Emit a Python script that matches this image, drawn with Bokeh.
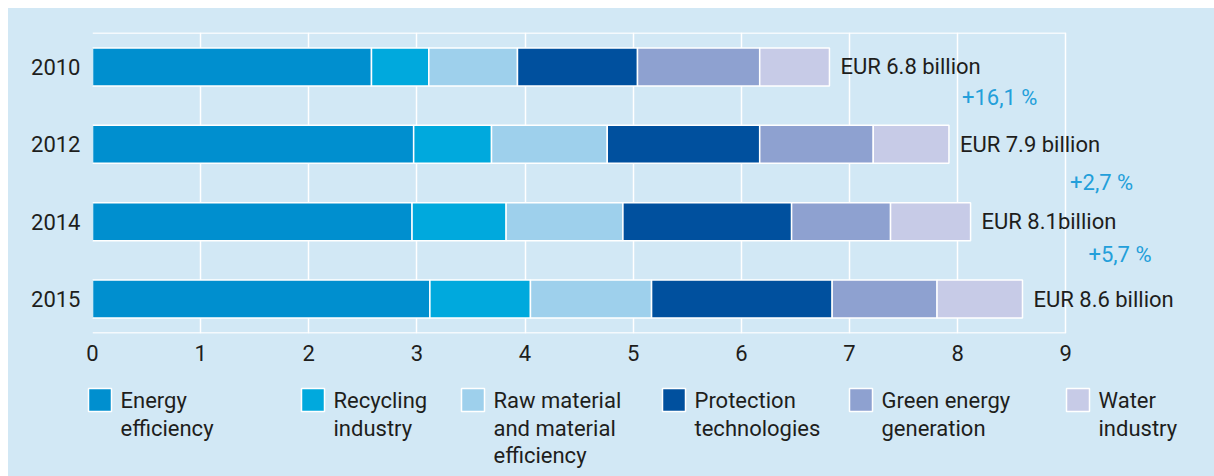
from bokeh.plotting import figure
from bokeh.models import FixedTicker, ColumnDataSource, Range1d
from bokeh.core.properties import value
from bokeh.embed import file_html
from bokeh.resources import INLINE

# ---- data ----
years = ["2010", "2012", "2014", "2015"]
categories = ["Energy efficiency", "Recycling industry",
              "Raw material and material efficiency", "Protection technologies",
              "Green energy generation", "Water industry"]
energy_efficiency = [2.58, 2.97, 2.955, 3.12]
recycling_industry = [0.53, 0.72, 0.87, 0.93]
raw_material = [0.82, 1.07, 1.08, 1.12]
protection_tech = [1.11, 1.41, 1.56, 1.67]
green_energy = [1.13, 1.05, 0.915, 0.97]
water_industry = [0.645, 0.70, 0.74, 0.79]
total_labels = ["EUR 6.8 billion", "EUR 7.9 billion", "EUR 8.1billion", "EUR 8.6 billion"]
growth_labels = ["+16,1 %", "+2,7 %", "+5,7 %"]
x_ticks = [0, 1, 2, 3, 4, 5, 6, 7, 8, 9]
legend_lines = [["Energy", "efficiency"], ["Recycling", "industry"],
                ["Raw material", "and material", "efficiency"],
                ["Protection", "technologies"], ["Green energy", "generation"],
                ["Water", "industry"]]

# ---- style / layout ----
colors = ["#008FCF", "#00A9DD", "#9ED0EC", "#00509E", "#8EA1D0", "#C7CBE7"]
BG = "#D2E8F5"
TXT = "#1E1E1C"
PCT = "#239FDA"
FONT = "Roboto"
FS = "22px"
growth_x = [8.04, 9.04, 9.21]
growth_y = [0.40, 1.49, 2.43]

W, H = 1206, 468
FL, FT, FW, FH = 84, 24, 1103, 301          # frame left/top/width/height (figure px)
X0, X1 = 0, 10.2
Y0, Y1 = -0.445, 3.445


def px2x(px):   # figure pixel -> data x
    return X0 + (px - FL) * (X1 - X0) / FW


def py2y(py):   # figure pixel -> data y (y axis flipped)
    return Y0 + (py - FT) * (Y1 - Y0) / FH


legend_px = [80, 293, 453, 654, 841, 1058]   # swatch left edges (figure px)

series = [energy_efficiency, recycling_industry, raw_material,
          protection_tech, green_energy, water_industry]
keys = ["c%d" % i for i in range(len(series))]
data = {"y": list(range(len(years)))}
for k, s in zip(keys, series):
    data[k] = s
source = ColumnDataSource(data)

p = figure(width=W, height=H, output_backend="svg", toolbar_location=None,
           x_range=Range1d(X0, X1), y_range=Range1d(Y1, Y0),
           min_border_left=FL, min_border_right=W - FL - FW, min_border_top=FT,
           min_border_bottom=H - FT - FH)
p.margin = (8, 0, 0, 8)
p.styles = {"background-color": BG}
p.background_fill_color = None
p.border_fill_color = None
p.outline_line_color = None

p.hbar_stack(keys, y="y", height=0.49, fill_color=colors, line_color="white",
             line_width=1.5, source=source)

# frame lines top & bottom
p.segment(x0=[0, 0], x1=[x_ticks[-1], x_ticks[-1]], y0=[-0.437, 3.437],
          y1=[-0.437, 3.437], line_color="white", line_width=1.5, level="underlay")

totals = [sum(v) for v in zip(*series)]
p.text(x=totals, y=list(range(len(years))), text=total_labels, x_offset=11,
       text_baseline="middle", text_align="left", text_font=value(FONT),
       text_font_size=FS, text_color=TXT)
p.text(x=growth_x, y=growth_y, text=growth_labels, text_baseline="middle",
       text_align="left", text_font=value(FONT), text_font_size=FS, text_color=PCT)

p.xaxis.ticker = FixedTicker(ticks=x_ticks)
p.yaxis.ticker = FixedTicker(ticks=list(range(len(years))))
p.yaxis.major_label_overrides = {i: y for i, y in enumerate(years)}
for ax in (p.xaxis, p.yaxis):
    ax.axis_line_color = None
    ax.major_tick_line_color = None
    ax.minor_tick_line_color = None
    ax.major_tick_out = 0
    ax.major_tick_in = 0
    ax.major_label_text_font = FONT
    ax.major_label_text_font_size = FS
    ax.major_label_text_color = TXT
p.xaxis.major_label_standoff = 11
p.yaxis.major_label_standoff = 12
p.xgrid.grid_line_color = "white"
p.xgrid.grid_line_width = 1.5
p.ygrid.grid_line_color = None

# ---- legend (drawn below the frame, overlay level so it is not clipped) ----
sw_x = [px2x(x + 11.5) for x in legend_px]
sw_y = [py2y(391.5)] * len(legend_px)
p.rect(x=sw_x, y=sw_y, width=23, height=23, width_units="screen",
       height_units="screen", fill_color=colors, line_color="white",
       line_width=1.5, level="overlay")
tx, ty, tt = [], [], []
for x, lines in zip(legend_px, legend_lines):
    for j, line in enumerate(lines):
        tx.append(px2x(x + 32))
        ty.append(py2y(392 + 27.5 * j))
        tt.append(line)
p.text(x=tx, y=ty, text=tt, text_baseline="middle", text_align="left",
       text_font=value(FONT), text_font_size=FS, text_color=TXT, level="overlay")

open("out.html", "w").write(file_html(p, INLINE))
